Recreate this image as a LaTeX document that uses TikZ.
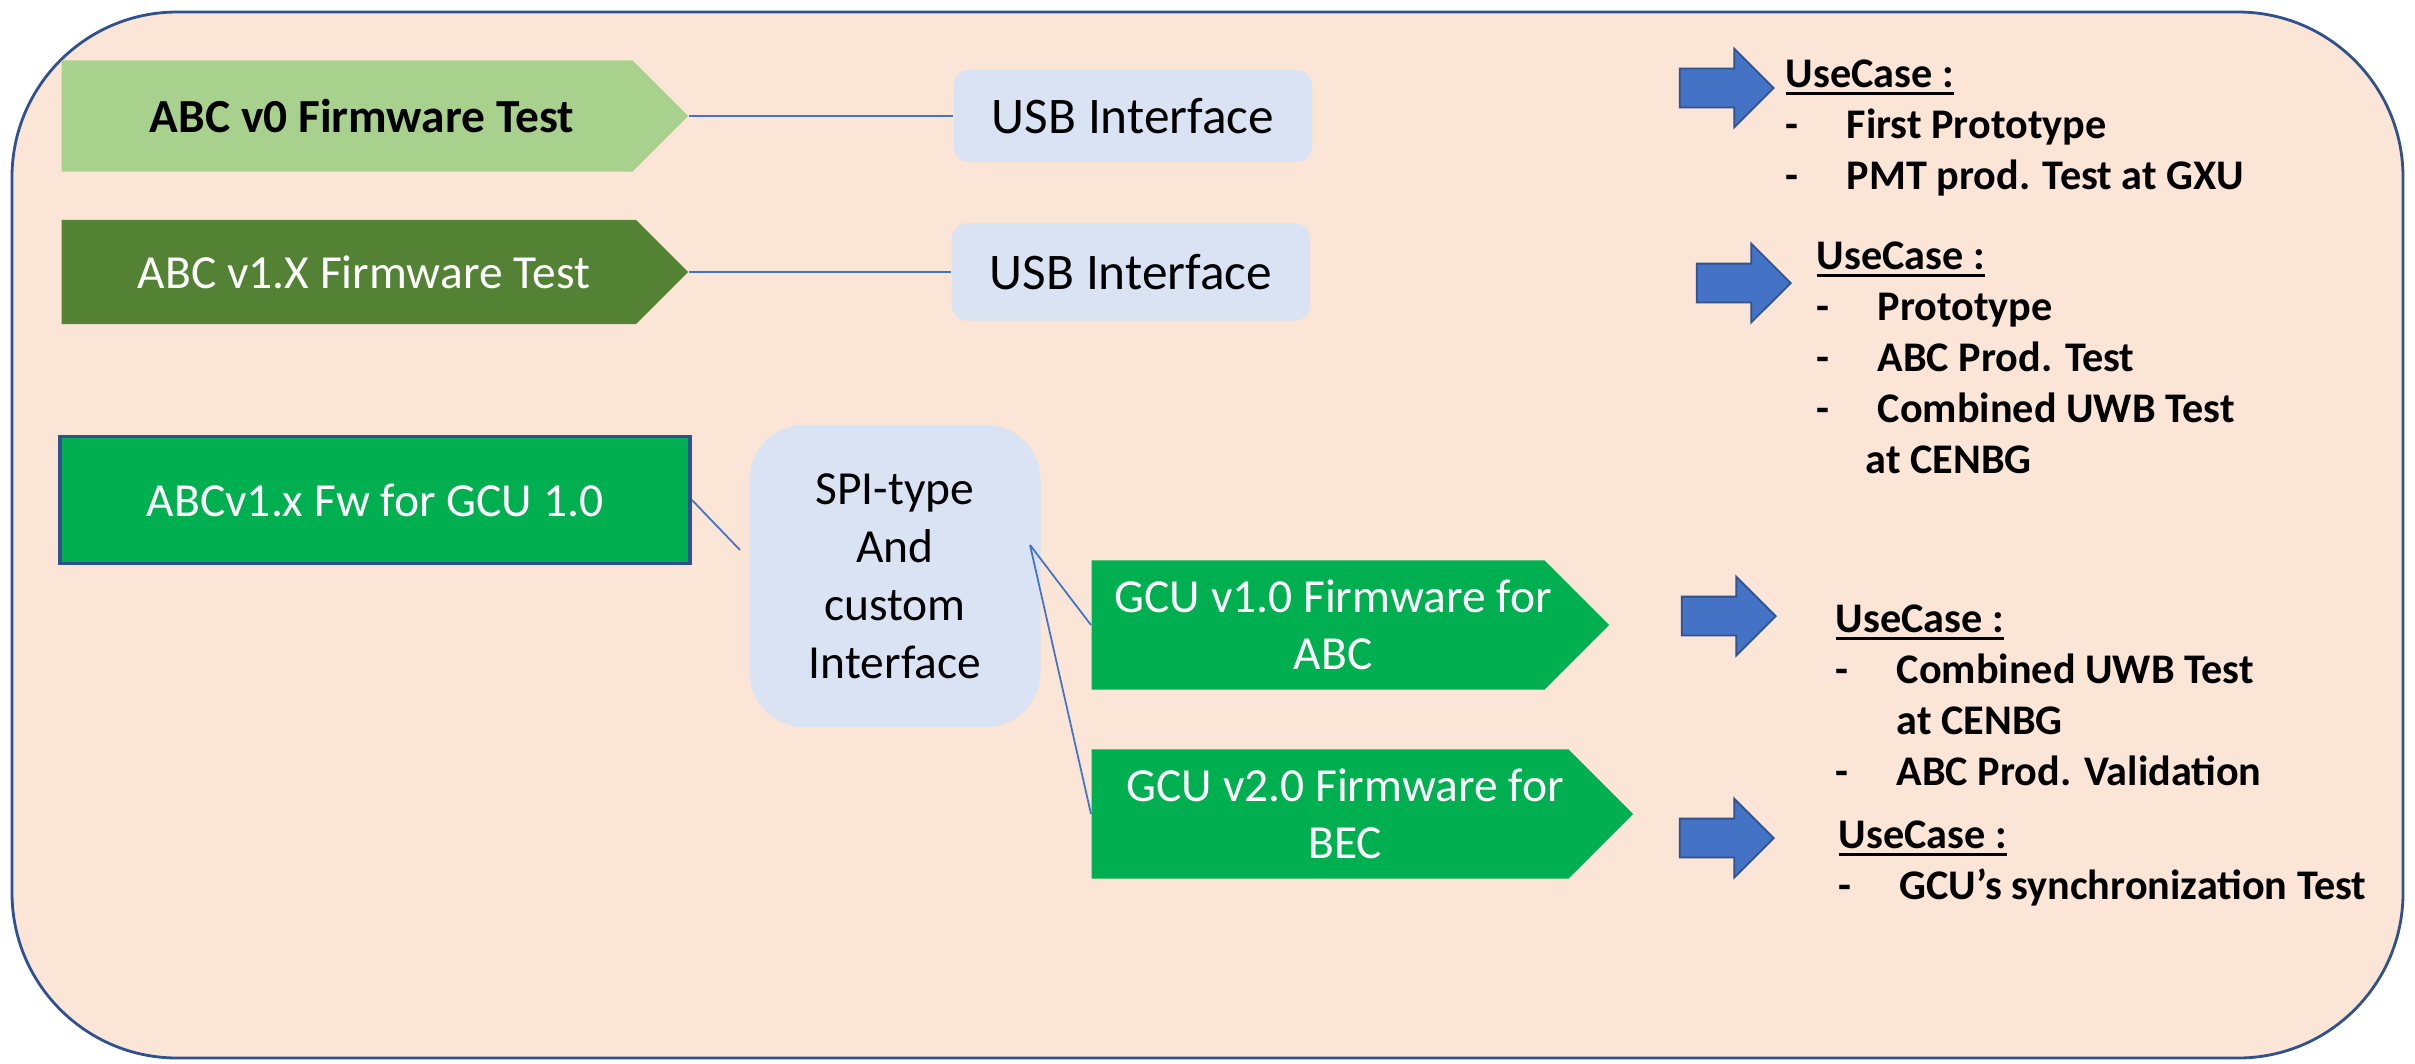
\documentclass[tikz,border=0pt]{standalone}
\usepackage{fontspec}
\setmainfont{Carlito}
\usetikzlibrary{shapes,shapes.symbols,shapes.arrows,positioning,calc}

\definecolor{peach}{HTML}{FBE5D6}
\definecolor{lightgreen}{HTML}{A9D18E}
\definecolor{darkgreen}{HTML}{548235}
\definecolor{brightgreen}{HTML}{00B050}
\definecolor{paleblue}{HTML}{DAE3F3}
\definecolor{arrowblue}{HTML}{4472C4}
\definecolor{edgeblue}{HTML}{2F528F}

\newcommand{\boxfont}{\fontsize{13.5}{16.2}\selectfont}
\newcommand{\usbfont}{\fontsize{14.6}{17}\selectfont}
\newcommand{\ucfont}{\fontsize{12}{14.5}\selectfont\bfseries}
\newcommand{\dashitem}[1]{\makebox[0.61cm][l]{-}#1}
% text shifted right a little inside the pointed boxes
\newcommand{\nudge}[1]{\setbox0=\hbox{#1}\hbox to \wd0{\hskip0.15cm\copy0\hss}}
% underlined heading with a heavier rule
\newcommand{\uchead}{\setbox0=\hbox{UseCase :}\rlap{\copy0}\rule[-0.075cm]{\wd0}{0.03cm}}

\begin{document}
\begin{tikzpicture}[x=0.01cm,y=-0.01cm,
  fwsig/.style={signal, signal to=east, signal from=nowhere, inner sep=0pt, align=center, font=\boxfont},
  iface/.style={rectangle, rounded corners=0.15cm, fill=paleblue, inner sep=0pt, align=center, font=\usbfont},
  link/.style={arrowblue, line width=0.5pt},
  usearrow/.style={single arrow, fill=arrowblue, draw=edgeblue, line width=0.5pt, inner xsep=0pt, inner ysep=0.185cm,
    minimum height=0.94cm, minimum width=0.77cm, single arrow head extend=0.2cm},
  usecase/.style={align=left, anchor=base west, inner sep=0pt, font=\ucfont}]

  \useasboundingbox (0,0) rectangle (2415,1063);
  \draw[edgeblue, fill=peach, line width=0.8pt, rounded corners=1.65cm] (12,12) rectangle (2403,1058);

  % firmware blocks
  \node[fwsig, fill=lightgreen, minimum width=6.26cm, minimum height=1.11cm, anchor=west] (v0) at (61,116) {\nudge{\textbf{ABC v0 Firmware Test}}};
  \node[fwsig, fill=darkgreen, text=white, minimum width=6.26cm, minimum height=1.04cm, anchor=west] (v1x) at (61,272) {\nudge{ABC v1.X Firmware Test}};
  \node[rectangle, fill=brightgreen, draw=edgeblue, line width=1pt, text=white, font=\boxfont,
    minimum width=6.3cm, minimum height=1.27cm] (gcufw) at (375,500) {ABCv1.x Fw for GCU 1.0};
  \node[fwsig, fill=brightgreen, text=white, minimum width=5.17cm, minimum height=1.29cm, anchor=west] (gcu1) at (1091,625) {\nudge{GCU v1.0 Firmware for}\\\nudge{ABC}};
  \node[fwsig, fill=brightgreen, text=white, minimum width=5.41cm, minimum height=1.29cm, anchor=west] (gcu2) at (1091,814) {\nudge{GCU v2.0 Firmware for}\\\nudge{BEC}};

  % interfaces
  \node[iface, minimum width=3.58cm, minimum height=0.92cm] (usb1) at (1133,116) {USB Interface};
  \node[iface, minimum width=3.58cm, minimum height=0.97cm] (usb2) at (1131,272) {USB Interface};
  \node[iface, rounded corners=0.55cm, minimum width=2.91cm, minimum height=3.02cm,
    font=\fontsize{13.5}{16.5}\selectfont] (spi) at (895,576) {SPI-type\\And\\custom\\Interface};

  \coordinate (spiin) at (740,550);
  \coordinate (spiout) at (1030,545);

  \draw[link] (v0.east) -- (usb1.west);
  \draw[link] (v1x.east) -- (usb2.west);
  \draw[link] (gcufw.east) -- (spiin);
  \draw[link] (spiout) -- (gcu1.west);
  \draw[link] (spiout) -- (gcu2.west);

  % use cases
  \node[usearrow] (ua1) at (1717,88) {};
  \node[usearrow] (ua2) at (1734,283) {};
  \node[usearrow] (ua3) at (1719,616) {};
  \node[usearrow] (ua4) at (1717,838) {};

  \node[usecase] (uc1) at (1785,189) {\uchead\\\dashitem{First Prototype}\\\dashitem{PMT prod. Test at GXU}};
  \node[usecase] (uc2) at (1816,473) {\uchead\\\dashitem{Prototype}\\\dashitem{ABC Prod. Test}\\\dashitem{Combined UWB Test}\\\hspace*{0.49cm}at CENBG};
  \node[usecase] (uc3) at (1835,785) {\uchead\\\dashitem{Combined UWB Test}\\\hspace*{0.61cm}at CENBG\\\dashitem{ABC Prod. Validation}};
  \node[usecase] (uc4) at (1838,899) {\uchead\\\dashitem{GCU’s synchronization Test}};
\end{tikzpicture}
\end{document}
